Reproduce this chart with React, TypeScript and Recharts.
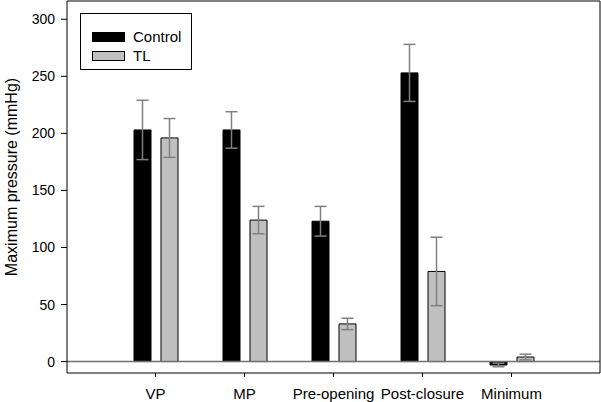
import { BarChart, Bar, XAxis, YAxis, ErrorBar, ReferenceLine } from "recharts";

const categories = ["VP", "MP", "Pre-opening", "Post-closure", "Minimum"];
const controlValues = [203, 203, 123, 253, -3];
const controlErrors = [26, 16, 13, 25, 1.5];
const tlValues = [196, 124, 33, 79, 4];
const tlErrors = [17, 12, 5, 30, 2.5];
const yTicks = [0, 50, 100, 150, 200, 250, 300];

const data = categories.map((name, i) => ({
  name,
  control: controlValues[i],
  controlErr: controlErrors[i],
  tl: tlValues[i],
  tlErr: tlErrors[i],
}));

const FONT = "'Liberation Sans', Arial, sans-serif";

const YLabel = (props: any) => {
  const { viewBox } = props;
  const cx = 11;
  const cy = viewBox.y + viewBox.height / 2 - 10;
  return (
    <text
      x={cx}
      y={cy}
      transform={`rotate(-90, ${cx}, ${cy})`}
      textAnchor="middle"
      dominantBaseline="central"
      fontSize={16}
      fontFamily={FONT}
      fill="#000"
    >
      Maximum pressure (mmHg)
    </text>
  );
};

const legendItems = [
  { label: "Control", fill: "#000000" },
  { label: "TL", fill: "#c0c0c0" },
];

const LegendBox = () => (
  <div
    style={{
      position: "absolute",
      left: 80,
      top: 13,
      width: 112,
      height: 57,
      border: "1px solid #000",
      background: "#fff",
      boxSizing: "border-box",
      fontFamily: FONT,
      fontSize: 15,
      paddingTop: 13,
      paddingLeft: 11,
    }}
  >
    {legendItems.map((item) => (
      <div key={item.label} style={{ display: "flex", alignItems: "center", height: 19 }}>
        <span
          style={{
            display: "inline-block",
            width: 33,
            height: 10,
            background: item.fill,
            border: "1px solid #000",
            boxSizing: "border-box",
            marginRight: 8,
          }}
        />
        <span>{item.label}</span>
      </div>
    ))}
  </div>
);

export default function App() {
  return (
    <div style={{ position: "absolute", left: 0, top: 0, width: 601, height: 402, background: "#fff" }}>
      <BarChart
        width={601}
        height={402}
        data={data}
        margin={{ top: 0, right: 0, bottom: 0, left: 0 }}
        barSize={17}
        barGap={10}
      >
        <XAxis
          dataKey="name"
          padding={{ left: 44, right: 44 }}
          height={29}
          tick={{ fill: "#000", fontSize: 15, fontFamily: FONT }}
          tickSize={4}
          tickMargin={11}
          stroke="#000"
          interval={0}
        />
        <XAxis
          xAxisId="top"
          dataKey="name"
          orientation="top"
          height={1}
          tick={false}
          tickLine={false}
          stroke="#000"
        />
        <YAxis
          domain={[-10, 316]}
          ticks={yTicks}
          width={67}
          tick={{ fill: "#000", fontSize: 14, fontFamily: FONT }}
          tickSize={6}
          tickMargin={6}
          stroke="#000"
          label={<YLabel />}
          allowDataOverflow
        />
        <YAxis
          yAxisId="right"
          orientation="right"
          domain={[-10, 316]}
          width={1}
          tick={false}
          tickLine={false}
          stroke="#000"
        />
        <ReferenceLine y={0} stroke="#707070" strokeWidth={1.5} />
        <Bar dataKey="control" fill="#000000" stroke="#000" strokeWidth={1} isAnimationActive={false}>
          <ErrorBar dataKey="controlErr" width={6} stroke="#808080" strokeWidth={1.5} />
        </Bar>
        <Bar dataKey="tl" fill="#c0c0c0" stroke="#000" strokeWidth={1} isAnimationActive={false}>
          <ErrorBar dataKey="tlErr" width={6} stroke="#808080" strokeWidth={1.5} />
        </Bar>
      </BarChart>
      <LegendBox />
    </div>
  );
}
